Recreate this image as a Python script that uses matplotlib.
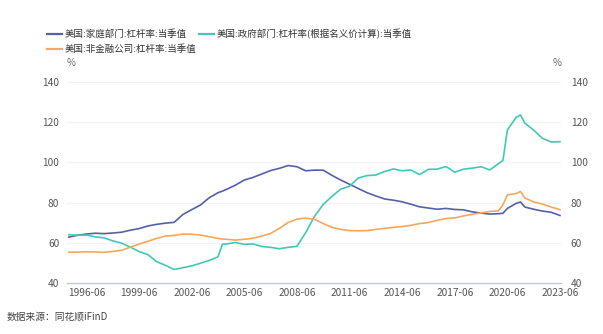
import matplotlib.pyplot as plt
from matplotlib.lines import Line2D

plt.rcParams['font.family'] = ['Noto Sans CJK SC', 'DejaVu Sans']

# quarter-end dates (mostly half-yearly, a few extra quarters at the sharp moves)
dates = [
    '1995-06', '1995-12', '1996-06', '1996-12', '1997-06', '1997-12',
    '1998-06', '1998-12', '1999-06', '1999-12', '2000-06', '2000-12',
    '2001-06', '2001-12', '2002-06', '2002-12', '2003-06', '2003-12',
    '2004-03', '2004-06', '2004-12', '2005-06', '2005-12', '2006-06',
    '2006-12', '2007-06', '2007-12', '2008-06', '2008-12', '2009-06',
    '2009-12', '2010-06', '2010-12', '2011-06', '2011-12', '2012-06',
    '2012-12', '2013-06', '2013-12', '2014-06', '2014-12', '2015-06',
    '2015-12', '2016-06', '2016-12', '2017-06', '2017-12', '2018-06',
    '2018-12', '2019-06', '2019-12', '2020-03', '2020-06', '2020-12',
    '2021-03', '2021-06', '2021-12', '2022-06', '2022-12', '2023-06',
]

household = [
    63.0, 63.9, 64.5, 64.9, 64.7, 65.0, 65.4, 66.4, 67.2, 68.5, 69.3, 69.9,
    70.3, 74.2, 76.6, 78.9, 82.5, 85.0, 85.8, 86.7, 88.8, 91.3, 92.6, 94.3,
    96.0, 97.1, 98.5, 97.9, 95.9, 96.2, 96.2, 93.6, 91.3, 89.2, 87.1, 85.0,
    83.4, 81.9, 81.3, 80.5, 79.3, 78.0, 77.4, 76.8, 77.2, 76.7, 76.5, 75.5,
    74.9, 74.4, 74.6, 74.8, 77.2, 79.7, 80.4, 77.9, 76.8, 75.9, 75.3, 73.7,
]

government = [
    64.2, 63.9, 64.0, 63.1, 62.6, 61.1, 60.0, 58.0, 55.8, 54.3, 50.8, 49.0,
    46.9, 47.8, 48.7, 50.0, 51.4, 53.2, 59.4, 59.6, 60.3, 59.4, 59.6, 58.3,
    57.9, 57.2, 57.9, 58.4, 65.2, 73.2, 79.2, 83.2, 86.8, 88.2, 92.3, 93.5,
    93.8, 95.5, 96.8, 95.9, 96.3, 94.0, 96.6, 96.7, 98.0, 95.2, 96.7, 97.2,
    97.9, 96.3, 99.5, 101.0, 116.1, 122.4, 123.6, 119.5, 116.1, 112.0, 110.2, 110.3,
]

corporate = [
    55.5, 55.5, 55.7, 55.6, 55.4, 55.9, 56.4, 58.0, 59.5, 60.9, 62.3, 63.5,
    63.8, 64.5, 64.4, 64.0, 63.2, 62.3, 62.0, 61.9, 61.5, 61.9, 62.4, 63.5,
    64.8, 67.3, 70.2, 71.9, 72.4, 71.8, 69.7, 67.8, 66.8, 66.2, 66.1, 66.2,
    66.8, 67.3, 67.8, 68.2, 68.8, 69.7, 70.2, 71.3, 72.2, 72.5, 73.5, 74.3,
    75.0, 75.7, 76.0, 79.0, 83.9, 84.6, 85.6, 82.4, 80.4, 79.4, 77.9, 76.6,
]

tick_labels = ['1996-06', '1999-06', '2002-06', '2005-06', '2008-06',
               '2011-06', '2014-06', '2017-06', '2020-06', '2023-06']
y_ticks = [40, 60, 80, 100, 120, 140]

series_names = ['美国:家庭部门:杠杆率:当季值',
                '美国:政府部门:杠杆率(根据名义价计算):当季值',
                '美国:非金融公司:杠杆率:当季值']
colors = ['#5660a8', '#42c9b5', '#f6a75c']


def to_year(d):
    y, m = d.split('-')
    return int(y) + int(m) / 12


x = [to_year(d) for d in dates]
tick_pos = [to_year(d) for d in tick_labels]

W, H = 603, 334
fig = plt.figure(figsize=(W / 100, H / 100), dpi=100)
ax = fig.add_axes([67 / W, 1 - 283.4 / H, (561 - 67) / W, (283.4 - 81.9) / H])

for vals, c in zip([household, government, corporate], colors):
    ax.plot(x, vals, color=c, lw=1.2, solid_joinstyle='round')

ax.set_xlim(1995.39, 2023.56)
ax.set_ylim(40, 140)
ax.set_yticks(y_ticks)
ax.set_xticks(tick_pos)
ax.set_xticklabels(tick_labels)
for yv in y_ticks[1:]:
    ax.axhline(yv, color='#f1f2f7', lw=0.9, zorder=0)

for s in ['top', 'left', 'right']:
    ax.spines[s].set_visible(False)
ax.spines['bottom'].set_color('#c3c7dc')
ax.spines['bottom'].set_linewidth(1.0)
ax.tick_params(axis='x', length=0, pad=3.5, labelsize=7.3, labelcolor='#555555')
ax.tick_params(axis='y', length=0, pad=5.5, labelsize=7.3, labelcolor='#555555')

ax2 = ax.twinx()
ax2.set_ylim(40, 140)
ax2.set_yticks(y_ticks)
for s in ax2.spines.values():
    s.set_visible(False)
ax2.tick_params(axis='y', length=0, pad=7, labelsize=7.3, labelcolor='#555555')

# unit labels
fig.text(71 / W, 1 - 63 / H, '%', ha='center', va='center', fontsize=7, color='#666666')
fig.text(557 / W, 1 - 63 / H, '%', ha='center', va='center', fontsize=7, color='#666666')

# legend
legend_pos = [(47, 34), (199, 34), (47, 49)]
for (lx, ly), name, c in zip(legend_pos, series_names, colors):
    fig.add_artist(Line2D([lx / W, (lx + 15) / W], [1 - ly / H] * 2,
                          transform=fig.transFigure, color=c, lw=1.6))
    fig.text((lx + 18) / W, 1 - ly / H, name, ha='left', va='center',
             fontsize=6.8, color='#333333')

fig.text(7 / W, 1 - 317 / H, '数据来源：同花顺iFinD', ha='left', va='center',
         fontsize=7, color='#444444')

fig.savefig('out.png', dpi=100)
